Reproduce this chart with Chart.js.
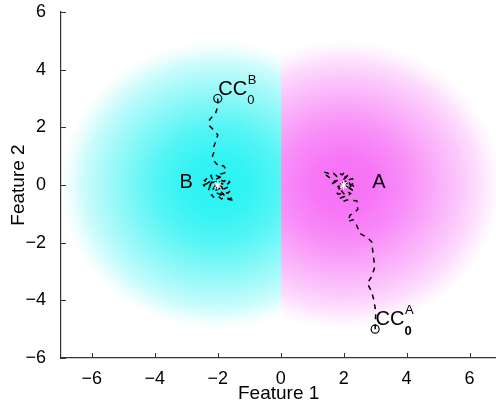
<!DOCTYPE html>
<html>
<head>
<meta charset="utf-8">
<script src="https://cdn.jsdelivr.net/npm/chart.js@4/dist/chart.umd.min.js"></script>
<style>
  html, body { margin: 0; padding: 0; background: #fff; overflow: hidden; }
  canvas { display: block; }
</style>
</head>
<body>
<canvas id="c" width="502" height="406"></canvas>
<script>
// Class centres and starting points of the two trajectories
const centreA = [2, 0];
const centreB = [-2, 0];
const startA = [3, -5];
const startB = [-2, 3];

// Trajectory from CC0^B down to centre B
const pathB = [
  [-2.00, 3.00], [-2.00, 2.72], [-2.07, 2.49], [-2.26, 2.26], [-2.26, 2.05],
  [-2.13, 1.91], [-2.00, 1.74], [-2.05, 1.54], [-2.12, 1.35], [-2.13, 1.12],
  [-2.18, 0.96], [-2.07, 0.77], [-1.96, 0.64], [-1.82, 0.67], [-1.71, 0.50],
  [-1.78, 0.42], [-1.90, 0.38], [-1.85, 0.28], [-2.00, 0.30], [-2.12, 0.40],
  [-2.22, 0.33], [-2.18, 0.22], [-2.32, 0.25], [-2.42, 0.15], [-2.30, 0.08],
  [-2.45, 0.00], [-2.38, -0.10], [-2.25, -0.05], [-2.30, -0.20], [-2.15, -0.15],
  [-2.08, -0.02], [-2.20, 0.08], [-2.05, 0.12], [-1.92, 0.18], [-1.80, 0.12],
  [-1.70, 0.22], [-1.62, 0.10], [-1.72, 0.00], [-1.85, 0.05], [-1.95, -0.08],
  [-1.82, -0.15], [-1.70, -0.08], [-1.58, -0.18], [-1.68, -0.28], [-1.82, -0.25],
  [-1.95, -0.32], [-2.08, -0.25], [-2.20, -0.35], [-2.10, -0.45], [-1.98, -0.40],
  [-1.88, -0.48], [-1.75, -0.42], [-1.62, -0.48], [-1.50, -0.40], [-1.55, -0.52],
  [-1.68, -0.50], [-1.80, -0.35], [-1.92, -0.20], [-2.02, -0.10], [-2.12, 0.02],
  [-2.25, 0.12], [-2.35, 0.05], [-2.28, -0.08], [-2.15, 0.18], [-2.02, 0.22],
  [-1.90, 0.28], [-1.95, 0.12], [-1.82, 0.02], [-1.90, -0.10], [-2.05, -0.18],
  [-1.92, -0.35], [-1.78, -0.28], [-1.88, -0.05], [-2.00, 0.05], [-1.95, -0.03],
  [-2.00, 0.00]
];

// Trajectory from CC0^A up to centre A
const pathA = [
  [3.00, -5.00], [3.02, -4.40], [2.96, -3.99], [2.89, -3.70], [2.75, -3.41],
  [2.89, -3.18], [2.99, -2.84], [2.94, -2.43], [2.89, -1.97], [2.78, -1.85],
  [2.52, -1.68], [2.41, -1.39], [2.30, -1.20], [2.14, -1.27], [2.20, -1.05],
  [2.45, -0.85], [2.42, -0.55], [2.10, -0.52], [1.95, -0.58], [1.90, -0.45],
  [2.02, -0.40], [1.95, -0.28], [1.82, -0.32], [1.75, -0.20], [1.88, -0.12],
  [1.78, -0.02], [1.65, 0.05], [1.72, 0.15], [1.60, 0.22], [1.50, 0.30],
  [1.40, 0.38], [1.35, 0.45], [1.48, 0.42], [1.58, 0.35], [1.68, 0.40],
  [1.78, 0.30], [1.85, 0.42], [1.95, 0.35], [2.05, 0.45], [2.12, 0.32],
  [2.02, 0.22], [2.15, 0.18], [2.28, 0.22], [2.35, 0.10], [2.25, 0.02],
  [2.36, -0.08], [2.28, -0.18], [2.18, -0.10], [2.10, -0.22], [2.22, -0.30],
  [2.12, -0.38], [2.00, -0.30], [1.92, -0.18], [1.85, -0.05], [1.95, 0.08],
  [1.82, 0.18], [1.70, 0.08], [1.80, -0.08], [1.92, 0.02], [2.05, 0.28],
  [2.18, 0.08], [2.25, -0.12], [2.10, -0.05], [1.98, 0.15], [2.08, 0.12],
  [2.12, -0.02], [2.02, -0.08], [2.00, 0.00]
];

// Axis ticks and limits
const xTicks = [-6, -4, -2, 0, 2, 4, 6];
const yTicks = [-6, -4, -2, 0, 2, 4, 6];
const xLimits = [-6.98, 6.85];
const yLimits = [-6, 6];
const regionRadius = 5;

const toPts = arr => arr.map(([x, y]) => ({ x, y }));
const FONT = '"Liberation Sans", Arial, Helvetica, sans-serif';

// Shaded class regions: elliptical (in pixels) radial fades, split at x = 0
const regionPlugin = {
  id: 'regions',
  beforeDatasetsDraw(chart) {
    const { ctx, chartArea: a, scales: { x, y } } = chart;
    const sx = Math.abs(x.getPixelForValue(1) - x.getPixelForValue(0));
    const sy = Math.abs(y.getPixelForValue(1) - y.getPixelForValue(0));
    const x0 = x.getPixelForValue(0);
    const draw = (centre, rgb, amax, left) => {
      ctx.save();
      ctx.beginPath();
      if (left) ctx.rect(a.left, a.top, x0 - a.left, a.bottom - a.top);
      else ctx.rect(x0, a.top, a.right - x0, a.bottom - a.top);
      ctx.clip();
      ctx.translate(x.getPixelForValue(centre[0]), y.getPixelForValue(centre[1]));
      ctx.scale(sx, sy);
      const g = ctx.createRadialGradient(0, 0, 0, 0, 0, regionRadius);
      const stops = [[0, 1], [0.2, 0.95], [0.4, 0.8], [0.6, 0.56], [0.75, 0.38], [0.85, 0.24], [0.93, 0.1], [1, 0]];
      stops.forEach(([t, k]) => g.addColorStop(t, `rgba(${rgb},${(amax * k).toFixed(3)})`));
      ctx.fillStyle = g;
      ctx.beginPath();
      ctx.arc(0, 0, regionRadius, 0, Math.PI * 2);
      ctx.fill();
      ctx.restore();
    };
    draw(centreB, '0,240,240', 0.84, true);
    draw(centreA, '240,0,240', 0.56, false);
  }
};

// Inward tick marks on the two axes
const tickPlugin = {
  id: 'innerTicks',
  afterDraw(chart) {
    const { ctx, chartArea: a, scales: { x, y } } = chart;
    ctx.save();
    ctx.strokeStyle = '#333';
    ctx.lineWidth = 1;
    ctx.beginPath();
    xTicks.forEach(v => {
      const px = Math.round(x.getPixelForValue(v)) + 0.5;
      ctx.moveTo(px, a.bottom);
      ctx.lineTo(px, a.bottom - 5);
    });
    yTicks.forEach(v => {
      const py = Math.round(y.getPixelForValue(v)) + 0.5;
      ctx.moveTo(a.left, py);
      ctx.lineTo(a.left + 5, py);
    });
    ctx.stroke();
    ctx.restore();
  }
};

// Text labels for the centres and starting points
const labelPlugin = {
  id: 'labels',
  afterDatasetsDraw(chart) {
    const { ctx, scales: { x, y } } = chart;
    const px = p => [x.getPixelForValue(p[0]), y.getPixelForValue(p[1])];
    ctx.save();
    ctx.fillStyle = '#000';
    ctx.textBaseline = 'middle';
    ctx.textAlign = 'center';
    ctx.font = `20px ${FONT}`;
    const [bx, by] = px([-3.0, 0.07]);
    ctx.fillText('B', bx, by);
    const [ax, ay] = px([3.12, 0.07]);
    ctx.fillText('A', ax, ay);

    ctx.textAlign = 'left';
    ctx.textBaseline = 'alphabetic';
    const cc = (p, sup, subBold) => {
      const [cx, cy] = px(p);
      ctx.font = `20px ${FONT}`;
      ctx.fillText('CC', cx + 0.5, cy - 3.8);
      ctx.font = `13px ${FONT}`;
      ctx.fillText(sup, cx + 30, cy - 15);
      ctx.font = `${subBold ? 'bold ' : ''}13px ${FONT}`;
      ctx.fillText('0', cx + 29.5, cy + 5.5);
    };
    cc(startB, 'B', false);
    cc(startA, 'A', true);
    ctx.restore();
  }
};

const tickLabel = v => (v < 0 ? '\u2212' + Math.abs(v) : String(v));
const noPad = s => { s.paddingTop = 0; s.paddingBottom = 0; s.paddingLeft = 0; s.paddingRight = 0; };

new Chart(document.getElementById('c'), {
  type: 'scatter',
  data: {
    datasets: [
      {
        label: 'centres',
        data: toPts([centreA, centreB]),
        pointStyle: 'star',
        pointRadius: 4.5,
        borderColor: '#fff',
        backgroundColor: '#fff',
        borderWidth: 1.2,
        showLine: false
      },
      {
        label: 'starts',
        data: toPts([startA, startB]),
        pointStyle: 'circle',
        pointRadius: 4,
        borderColor: '#000',
        backgroundColor: 'rgba(0,0,0,0)',
        borderWidth: 1.2,
        showLine: false
      },
      {
        label: 'B',
        data: toPts(pathB),
        showLine: true,
        borderColor: '#000',
        borderWidth: 1.5,
        borderDash: [5, 5],
        pointRadius: 0,
        tension: 0,
        fill: false
      },
      {
        label: 'A',
        data: toPts(pathA),
        showLine: true,
        borderColor: '#000',
        borderWidth: 1.5,
        borderDash: [5, 5],
        pointRadius: 0,
        tension: 0,
        fill: false
      }
    ]
  },
  options: {
    responsive: false,
    devicePixelRatio: 1,
    animation: false,
    layout: { padding: { top: 12, right: 0, left: 0, bottom: 0 } },
    plugins: { legend: { display: false }, tooltip: { enabled: false } },
    scales: {
      x: {
        type: 'linear',
        min: xLimits[0],
        max: xLimits[1],
        afterBuildTicks: s => { s.ticks = xTicks.map(v => ({ value: v })); },
        afterFit: s => { s.height = 48; noPad(s); },
        grid: { display: false },
        border: { display: true, color: '#333', width: 1.2 },
        ticks: { color: '#000', font: { family: FONT, size: 18 }, padding: 2, maxRotation: 0, callback: tickLabel },
        title: { display: true, text: 'Feature 1', color: '#000', font: { family: FONT, size: 19 }, padding: { top: 0, bottom: 1 } }
      },
      y: {
        type: 'linear',
        min: yLimits[0],
        max: yLimits[1],
        afterBuildTicks: s => { s.ticks = yTicks.map(v => ({ value: v })); },
        afterFit: s => { s.width = 61; noPad(s); },
        grid: { display: false },
        border: { display: true, color: '#333', width: 1.2 },
        ticks: { color: '#000', font: { family: FONT, size: 18 }, padding: 7, callback: tickLabel },
        title: { display: true, text: 'Feature 2', color: '#000', font: { family: FONT, size: 19 }, padding: { top: 7, bottom: 0 } }
      }
    }
  },
  plugins: [regionPlugin, labelPlugin, tickPlugin]
});
</script>
</body>
</html>
